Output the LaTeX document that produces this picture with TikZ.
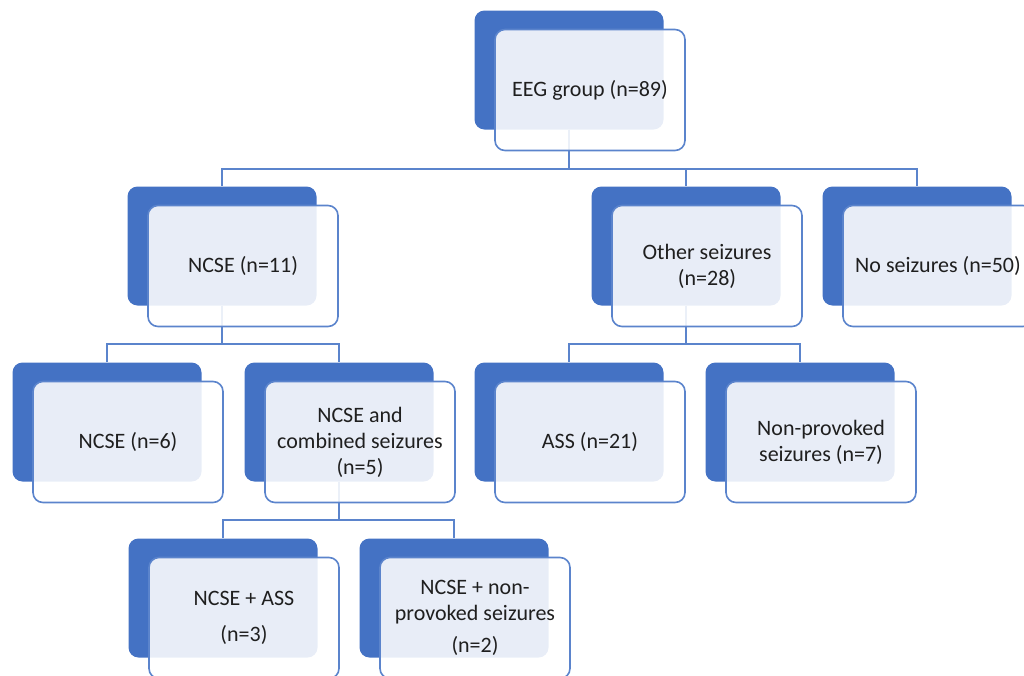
\documentclass[tikz,border=0pt]{standalone}
\usepackage{fontspec}
\setmainfont{Carlito}
\definecolor{blueback}{HTML}{4472C4}
\definecolor{blueline}{HTML}{5B84CC}
\definecolor{txt}{HTML}{1F1F1F}
\tikzset{
  backbox/.style={fill=blueback, rounded corners=10pt, minimum width=189pt, minimum height=119pt, inner sep=0pt},
  frontbox/.style={draw=blueline, line width=1.6pt, fill=white, fill opacity=0.88, text opacity=1,
    rounded corners=10pt, minimum width=190pt, minimum height=121pt, inner sep=0pt,
    align=center, text=txt, font=\fontsize{22}{26}\selectfont},
  link/.style={draw=blueline, line width=1.6pt}
}
\begin{document}
\begin{tikzpicture}[x=1pt,y=-1pt]
\useasboundingbox (0,0) rectangle (1024,675);
\clip (0,0) rectangle (1024,675);
% back boxes
\node[backbox] (eegB) at (569,70) {};
\node[backbox] (ncseB) at (222,246) {};
\node[backbox] (otherB) at (686,246) {};
\node[backbox] (noB) at (917,246) {};
\node[backbox] (ncsesixB) at (107,422) {};
\node[backbox] (combB) at (339,422) {};
\node[backbox] (assB) at (569,422) {};
\node[backbox] (nonB) at (800,422) {};
\node[backbox] (ncseassB) at (223,598) {};
\node[backbox] (ncsenonB) at (454,598) {};
% connectors
\draw[link] (eegB.south) -- ++(0,39) -| (ncseB.north);
\draw[link] (eegB.south) -- ++(0,39) -| (otherB.north);
\draw[link] (eegB.south) -- ++(0,39) -| (noB.north);
\draw[link] (ncseB.south) -- ++(0,38) -| (ncsesixB.north);
\draw[link] (ncseB.south) -- ++(0,38) -| (combB.north);
\draw[link] (otherB.south) -- ++(0,38) -| (assB.north);
\draw[link] (otherB.south) -- ++(0,38) -| (nonB.north);
\draw[link] (combB.south) -- ++(0,38) -| (ncseassB.north);
\draw[link] (combB.south) -- ++(0,38) -| (ncsenonB.north);
% front boxes
\node[frontbox] (eeg) at (590,90) {EEG group (n=89)};
\node[frontbox] (ncse) at (243,266) {NCSE (n=11)};
\node[frontbox] (other) at (707,266) {Other seizures\\(n=28)};
\node[frontbox] (no) at (938,266) {No seizures (n=50)};
\node[frontbox] (ncsesix) at (128,442) {NCSE (n=6)};
\node[frontbox] (comb) at (360,442) {NCSE and\\combined seizures\\(n=5)};
\node[frontbox] (ass) at (590,442) {ASS (n=21)};
\node[frontbox] (non) at (821,442) {Non-provoked\\seizures (n=7)};
\node[frontbox] (ncseass) at (244,618) {NCSE + ASS\\[10pt](n=3)};
\node[frontbox] (ncsenon) at (475,618) {NCSE + non-\\provoked seizures\\[6pt](n=2)};
\end{tikzpicture}
\end{document}
